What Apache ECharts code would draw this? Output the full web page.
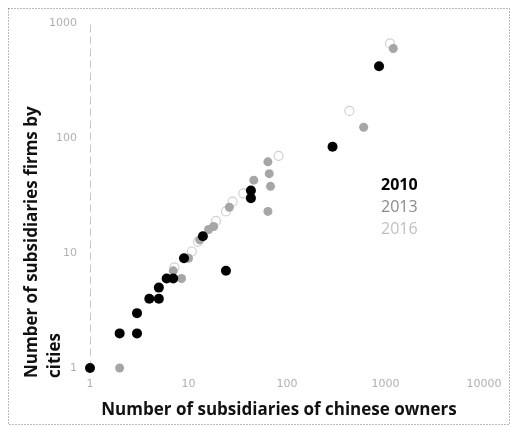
<!DOCTYPE html>
<html>
<head>
<meta charset="utf-8">
<script src="https://cdn.jsdelivr.net/npm/echarts@6/dist/echarts.min.js"></script>
<style>
html,body{margin:0;padding:0;background:#fff;}
#chart{width:510px;height:425px;}
</style>
</head>
<body>
<div id="chart"></div>
<script>
// Data: [subsidiaries of chinese owners, subsidiaries firms by cities]
const seriesNames = ['2010', '2013', '2016'];
const data2010 = [[1,1],[2,2],[3,2],[3,3],[4,4],[5,4],[5,5],[6,6],[7,6],[9,9],[14,14],[24,7],[43,35],[43,30],[290,84],[860,420]];
const data2013 = [[2,1],[7,7],[8.5,6],[10,9],[13,13],[16,16],[18,17],[26,25],[46,43],[64,23],[68,38],[66,49],[64,62],[600,124],[1200,600]];
const data2016 = [[7.2,7.5],[10.8,10.3],[12.5,12.5],[19,19],[24,23],[28,28],[36,33],[82,70],[430,172],[1110,665]];
const xTicks = [1, 10, 100, 1000, 10000];
const yTicks = [1, 10, 100, 1000];

const chart = echarts.init(document.getElementById('chart'), null, {renderer: 'canvas'});
const labelFont = 'DejaVu Sans';
const titleFont = '"Open Sans", "Noto Sans", sans-serif';

chart.setOption({
  animation: false,
  backgroundColor: '#fff',
  grid: {left: 90, right: 26, top: 23, bottom: 57},
  xAxis: {
    type: 'log', logBase: 10, min: xTicks[0], max: xTicks[xTicks.length - 1],
    axisLine: {show: false}, axisTick: {show: false}, splitLine: {show: false},
    axisLabel: {color: '#b0b0b0', fontSize: 11, fontFamily: labelFont, margin: 11,
      formatter: v => String(Math.round(v))},
    name: 'Number of subsidiaries of chinese owners',
    nameLocation: 'middle', nameGap: 34,
    nameTextStyle: {color: '#111', fontSize: 17, fontWeight: 'bold', fontFamily: titleFont, padding: [0, 16, 0, 0]}
  },
  yAxis: {
    type: 'log', logBase: 10, min: yTicks[0], max: yTicks[yTicks.length - 1],
    axisLine: {show: true, lineStyle: {color: '#c8c8c8', width: 1, type: [7, 5]}},
    axisTick: {show: false}, splitLine: {show: false},
    axisLabel: {color: '#b0b0b0', fontSize: 11, fontFamily: labelFont, margin: 13,
      formatter: v => String(Math.round(v))}
  },
  legend: {
    orient: 'vertical', left: 371, top: 172, itemGap: 6, itemWidth: 0, itemHeight: 0,
    icon: 'none', selectedMode: false,
    textStyle: {fontSize: 16, fontFamily: titleFont},
    data: [
      {name: '2010', textStyle: {color: '#000', fontWeight: 'bold'}},
      {name: '2013', textStyle: {color: '#8a8a8a'}},
      {name: '2016', textStyle: {color: '#c0c0c0'}}
    ]
  },
  graphic: [
    {type: 'rect', left: 6, top: 6, shape: {width: 501, height: 416}, silent: true,
     style: {fill: 'none', stroke: '#777', lineWidth: 1, lineDash: [1, 2]}},
    {type: 'text', x: 44, y: 378, rotation: Math.PI / 2, silent: true,
     style: {text: 'Number of subsidiaries firms by\ncities', font: 'bold 17px ' + titleFont,
       fill: '#111', align: 'left', verticalAlign: 'middle', lineHeight: 23}}
  ],
  series: [
    {name: seriesNames[2], type: 'scatter', data: data2016, symbolSize: 9, z: 2,
     itemStyle: {color: '#fff', borderColor: '#c4c4c4', borderWidth: 1.2}},
    {name: seriesNames[1], type: 'scatter', data: data2013, symbolSize: 9, z: 3,
     itemStyle: {color: '#a6a6a6', opacity: 1}},
    {name: seriesNames[0], type: 'scatter', data: data2010, symbolSize: 10, z: 4,
     itemStyle: {color: '#000', opacity: 1}}
  ]
});
</script>
</body>
</html>
